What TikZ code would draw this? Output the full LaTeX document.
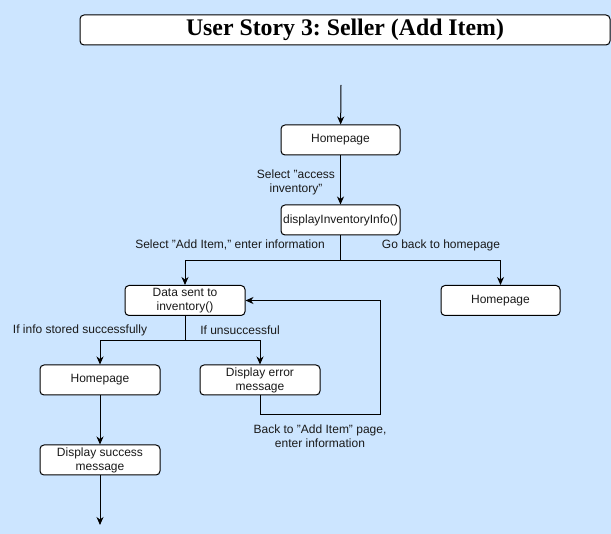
\documentclass[tikz,border=0pt]{standalone}
\usepackage{fontspec}
\setmainfont{Liberation Sans}
\newfontfamily\titlefont{Liberation Serif}
\usetikzlibrary{arrows.meta}
\definecolor{bgblue}{HTML}{CCE5FF}
\definecolor{txt}{HTML}{1A1A1A}
\frenchspacing
\begin{document}
\begin{tikzpicture}[x=1pt,y=-1pt,
  box/.style={draw=black,fill=white,rounded corners=4pt,line width=1pt,minimum width=119pt,minimum height=30pt,inner sep=1pt,align=center,font=\fontsize{12}{14}\selectfont,text=txt},
  conn/.style={line width=1pt,-{Stealth[length=8pt,width=7pt,inset=2.5pt]}},
  lbl/.style={align=center,font=\fontsize{12}{14}\selectfont,text=txt,inner sep=0pt}]
\fill[bgblue] (0,0) rectangle (611,534);
\useasboundingbox (0,0) rectangle (611,534);
\node[draw=black,fill=white,rounded corners=4pt,line width=1pt,minimum width=530pt,minimum height=30pt,font=\titlefont\fontsize{23.8}{26}\selectfont\bfseries] (title) at (345,30) {User Story 3: Seller (Add Item)};
\coordinate (start) at (341,85);
\node[box] (home1) at (340.5,140) {Homepage};
\node[box] (disp) at (340.5,220) {displayInventoryInfo()};
\node[box,minimum width=120pt] (data) at (185,300.5) {Data sent to\\inventory()};
\node[box] (home3) at (500.5,300.5) {Homepage};
\node[box,minimum width=120pt] (home2) at (100,380) {Homepage};
\node[box,minimum width=120pt] (err) at (260,380) {Display error\\message};
\node[box,minimum width=120pt] (succ) at (100,460) {Display success\\message};
\coordinate (endpt) at (100,525);
\draw[conn] (start) -- (home1);
\draw[conn] (home1) -- (disp);
\draw[conn] (disp.south) -- ++(0,25) -| (data.north);
\draw[conn] (disp.south) -- ++(0,25) -| (home3.north);
\draw[conn] (data.south) -- ++(0,25) -| (home2.north);
\draw[conn] (data.south) -- ++(0,25) -| (err.north);
\draw[conn] (err.south) -- ++(0,19) -| (380,300.5) -- (data.east);
\draw[conn] (home2) -- (succ);
\draw[conn] (succ) -- (endpt);
\node[lbl] (l1) at (296,182) {Select "access\\inventory"};
\node[lbl] (l2) at (230,245) {Select "Add Item," enter information};
\node[lbl] (l3) at (441,245) {Go back to homepage};
\node[lbl] (l4) at (80,330.5) {If info stored successfully};
\node[lbl] (l5) at (240,330.5) {If unsuccessful};
\node[lbl] (l6) at (320,436) {Back to "Add Item" page,\\enter information};
\end{tikzpicture}
\end{document}
